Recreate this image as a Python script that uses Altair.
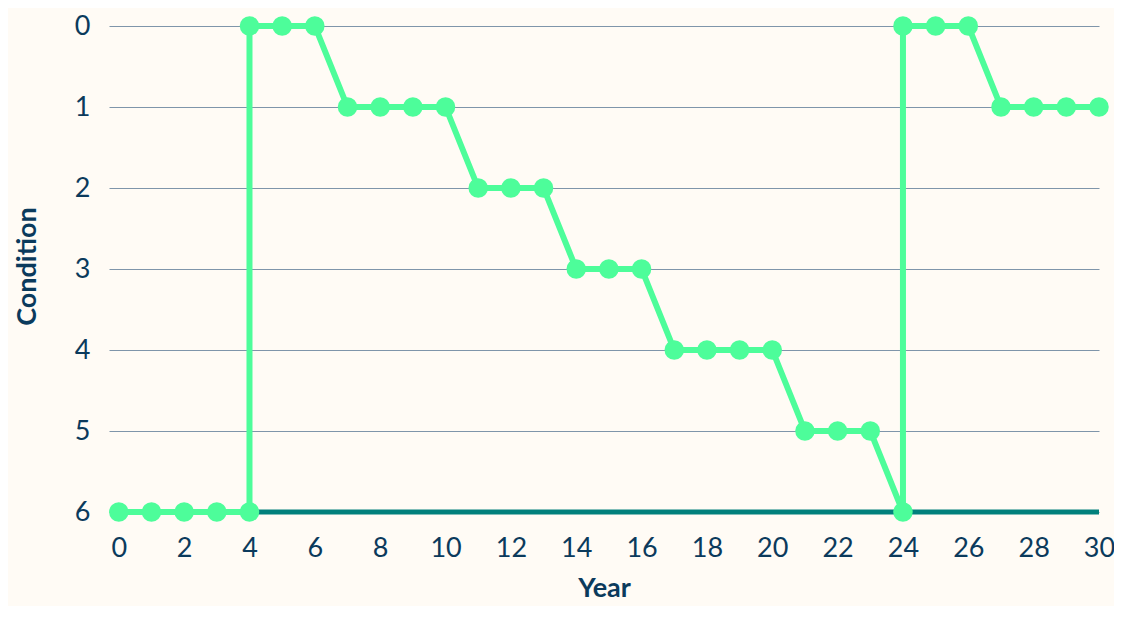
import altair as alt
import pandas as pd

# Data
years = [0, 1, 2, 3, 4, 4, 5, 6, 7, 8, 9, 10, 11, 12, 13, 14, 15, 16, 17, 18, 19, 20,
         21, 22, 23, 24, 24, 25, 26, 27, 28, 29, 30]
condition = [6, 6, 6, 6, 6, 0, 0, 0, 1, 1, 1, 1, 2, 2, 2, 3, 3, 3, 4, 4, 4, 4,
             5, 5, 5, 6, 0, 0, 0, 1, 1, 1, 1]
x_ticks = list(range(0, 31, 2))
y_ticks = [0, 1, 2, 3, 4, 5, 6]
baseline_start = [4]
baseline_end = [30]
baseline_value = [6]

GREEN = "#4dfd9a"
TEAL = "#02807c"
NAVY = "#0b3a5c"
BG = "#fffbf5"
GRID = "#7f95aa"
FONT = "Lato"

df = pd.DataFrame({"year": years, "condition": condition, "order": list(range(len(years)))})
base_df = pd.DataFrame({"start": baseline_start, "end": baseline_end, "value": baseline_value})

xscale = alt.Scale(domain=[-0.3, 30], nice=False, zero=False)
yscale = alt.Scale(domain=[0, 6], reverse=True, nice=False)

xaxis = alt.Axis(values=x_ticks, grid=False, ticks=False, tickSize=0, domain=False,
                 format="d",
                 labelFontSize=27, labelColor=NAVY, labelFont=FONT, labelPadding=23,
                 labelFlush=False,
                 title="Year", titleFontSize=27, titleFont=FONT, titleFontWeight="bold",
                 titleColor=NAVY, titleY=76, titleBaseline="middle")
yaxis = alt.Axis(values=y_ticks, grid=True, gridColor=GRID, gridWidth=1.2,
                 ticks=False, tickSize=0, domain=False, format="d",
                 labelFontSize=27, labelColor=NAVY, labelFont=FONT, labelPadding=19,
                 title="Condition", titleFontSize=27, titleFont=FONT, titleFontWeight="bold",
                 titleColor=NAVY, titleX=-82, titleY=240, titleAngle=-90,
                 titleAlign="center", titleBaseline="middle")

baseline = alt.Chart(base_df).mark_rule(color=TEAL, strokeWidth=5).encode(
    x=alt.X("start:Q", scale=xscale, axis=xaxis),
    x2="end:Q",
    y=alt.Y("value:Q", scale=yscale, axis=yaxis),
)

line = alt.Chart(df).mark_line(color=GREEN, strokeWidth=6, strokeJoin="round").encode(
    x=alt.X("year:Q", scale=xscale),
    y=alt.Y("condition:Q", scale=yscale),
    order="order:Q",
)

points = alt.Chart(df).mark_circle(color=GREEN, size=380, opacity=1).encode(
    x=alt.X("year:Q", scale=xscale),
    y=alt.Y("condition:Q", scale=yscale),
)

chart = alt.layer(baseline, line, points).properties(
    width=990,
    height=486,
    background=BG,
    padding={"left": 101, "top": 18, "right": 15, "bottom": 94},
    autosize=alt.AutoSizeParams(type="none"),
).configure_view(stroke=None)

chart.save("out.html", embed_options={"renderer": "svg", "actions": False})
